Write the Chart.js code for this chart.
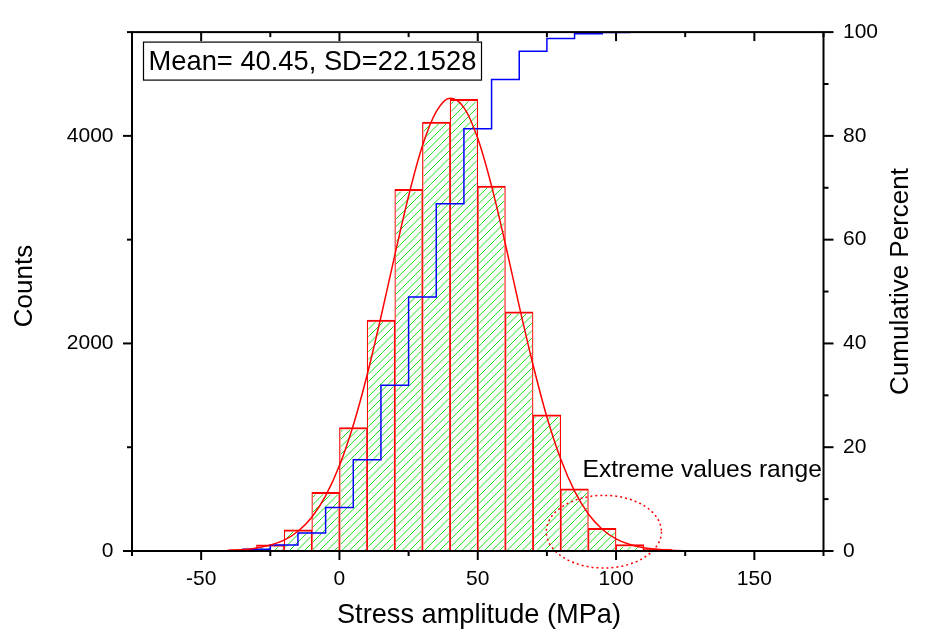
<!DOCTYPE html>
<html><head><meta charset="utf-8">
<script src="https://cdn.jsdelivr.net/npm/chart.js@4/dist/chart.umd.min.js"></script>
<style>html,body{margin:0;padding:0;background:#fff;}#wrap{width:926px;height:639px;}</style>
</head><body><div id="wrap"><canvas id="c" width="926" height="639"></canvas></div>
<script>
// ---- data ----
const binCenters = [-55,-45,-35,-25,-15,-5,5,15,25,35,45,55,65,75,85,95,105,115];
const counts     = [1,4,13,60,205,565,1190,2225,3484,4134,4352,3516,2304,1313,600,218,63,18];
const cumPercent = [0.004,0.02,0.07,0.32,1.17,3.49,8.40,17.57,31.93,48.96,66.90,81.39,90.88,96.29,98.77,99.67,99.93,100];
const fitX = [-50,-40,-30,-20,-15,-10,-5,0,5,10,15,20,25,30,35,40,45,50,55,60,65,70,75,80,85,90,95,100,105,110,120,130];
const fitY = [1,6,28,105,190,326,531,823,1212,1696,2255,2849,3421,3904,4233,4362,4272,3976,3516,2956,2360,1792,1292,886,577,357,210,117,62,31,7,1];
const xTickValues = [-50,0,50,100,150];
const countTickValues = [0,2000,4000];
const percentTickValues = [0,20,40,60,80,100];
const statsLabel = 'Mean= 40.45, SD=22.1528';
const noteLabel = 'Extreme values range';
const xTitle = 'Stress amplitude (MPa)';
const yTitle = 'Counts';
const y2Title = 'Cumulative Percent';

const FONT = '"Liberation Sans", Arial, sans-serif';
Chart.defaults.font.family = FONT;
Chart.defaults.color = '#000';

const BAR_BORDER = {top:2, left:1.2, right:1.2, bottom:0};

// green hatch drawn inside each bar element (geometry from Chart.js)
const hatchPlugin = {
  id: 'hatch',
  afterDatasetDraw(chart, args){
    const meta = args.meta;
    if (meta.type !== 'bar') return;
    const ctx = chart.ctx;
    const step = 7.5;
    ctx.save();
    ctx.strokeStyle = 'rgb(25,225,25)';
    ctx.lineWidth = 1;
    meta.data.forEach(el => {
      const l = el.x - el.width/2 + BAR_BORDER.left;
      const r = el.x + el.width/2 - BAR_BORDER.right;
      const t = el.y + BAR_BORDER.top;
      const b = el.base;
      if (b - t < 1 || r - l < 1) return;
      ctx.save();
      ctx.beginPath(); ctx.rect(l, t, r-l, b-t); ctx.clip();
      ctx.beginPath();
      const cMin = Math.floor((l + t)/step)*step, cMax = r + b;
      for (let c = cMin; c <= cMax; c += step){
        ctx.moveTo(c - t, t); ctx.lineTo(c - b, b);
      }
      ctx.stroke();
      ctx.restore();
    });
    ctx.restore();
  }
};

const decor = {
  id: 'decor',
  afterDraw(chart){
    const {ctx, chartArea:a, scales:{x, y, y2}} = chart;
    ctx.save();
    // ellipse (dotted)
    const cx = x.getPixelForValue(95.6), cy = y.getPixelForValue(186);
    const rx = x.getPixelForValue(95.6+20.8) - cx, ry = cy - y.getPixelForValue(186+350);
    ctx.strokeStyle = '#ff0000'; ctx.lineWidth = 1.5; ctx.setLineDash([2,3]);
    ctx.beginPath(); ctx.ellipse(cx, cy, rx, ry, 0, 0, Math.PI*2); ctx.stroke();
    ctx.setLineDash([]);
    // frame
    ctx.strokeStyle = '#000'; ctx.lineWidth = 2;
    ctx.strokeRect(a.left, a.top, a.right-a.left, a.bottom-a.top);
    const line = (x1,y1,x2,y2)=>{ctx.beginPath();ctx.moveTo(x1,y1);ctx.lineTo(x2,y2);ctx.stroke();};
    for (let v=-75; v<=175; v+=25){
      const px = x.getPixelForValue(v); const L = (v%50===0)?9:5;
      line(px, a.bottom, px, a.bottom+L);
      line(px, a.top, px, a.top+L);
    }
    for (let v=0; v<=5000; v+=1000){
      const py = y.getPixelForValue(v); const L = (v%2000===0)?9:5;
      line(a.left-L, py, a.left, py);
    }
    for (let v=0; v<=100; v+=10){
      const py = y2.getPixelForValue(v); const L = (v%20===0)?10:5;
      line(a.right, py, a.right+L, py);
    }
    // stats box
    const bx = a.left+11.5, by = a.top+10, bw = 338, bh = 38;
    ctx.fillStyle = '#fff'; ctx.fillRect(bx, by, bw, bh);
    ctx.lineWidth = 1.2; ctx.strokeStyle = '#000'; ctx.strokeRect(bx, by, bw, bh);
    ctx.fillStyle = '#000';
    ctx.font = '27.3px ' + FONT; ctx.textAlign = 'center'; ctx.textBaseline = 'alphabetic';
    ctx.fillText(statsLabel, bx + bw/2, by + 28);
    // note
    ctx.font = '24.6px ' + FONT; ctx.textAlign = 'left';
    ctx.fillText(noteLabel, x.getPixelForValue(87.9), 476.5);
    // titles
    ctx.textAlign = 'center'; ctx.textBaseline = 'middle';
    ctx.font = '27.2px ' + FONT;
    ctx.fillText(xTitle, 479, 616);
    ctx.font = '26px ' + FONT;
    ctx.save(); ctx.translate(24.5, 286); ctx.rotate(-Math.PI/2);
    ctx.fillText(yTitle, 0, 0); ctx.restore();
    ctx.save(); ctx.translate(900.5, 281.5); ctx.rotate(-Math.PI/2);
    ctx.fillText(y2Title, 0, 0); ctx.restore();
    ctx.restore();
  }
};

const tickFont = {size: 21, family: FONT};
new Chart(document.getElementById('c'), {
  type: 'bar',
  data: {
    datasets: [
      {
        type: 'line',
        data: fitX.map((v,i)=>({x:v, y:fitY[i]})),
        borderColor: '#ff0000', borderWidth: 1.5, pointRadius: 0,
        cubicInterpolationMode: 'monotone', yAxisID: 'y', order: 1
      },
      {
        type: 'line',
        data: binCenters.map((v,i)=>({x:v, y:cumPercent[i]})),
        borderColor: '#0000ff', borderWidth: 1.5, pointRadius: 0,
        stepped: 'after', yAxisID: 'y2', order: 2
      },
      {
        type: 'bar',
        data: binCenters.map((v,i)=>({x:v, y:counts[i]})),
        backgroundColor: '#ffffff', borderColor: '#ff0000',
        borderWidth: BAR_BORDER,
        barPercentage: 1, categoryPercentage: 1, yAxisID: 'y', order: 3
      }
    ]
  },
  options: {
    responsive: false, animation: false, devicePixelRatio: 1,
    layout: {padding: {top: 22.5, left: 0, right: 0, bottom: 0}},
    plugins: {legend: {display: false}, tooltip: {enabled: false}},
    scales: {
      x: {
        type: 'linear', min: -75, max: 175, offset: false,
        grid: {display: false, drawTicks: false, offset: false}, border: {display: false},
        afterBuildTicks: s => { s.ticks = xTickValues.map(v=>({value:v})); },
        afterFit: s => { s.height = 88; },
        ticks: {font: tickFont, padding: 16, maxRotation: 0, callback: v => String(v)}
      },
      y: {
        position: 'left', min: 0, max: 5000,
        grid: {display: false, drawTicks: false}, border: {display: false},
        afterBuildTicks: s => { s.ticks = countTickValues.map(v=>({value:v})); },
        afterFit: s => { s.width = 132; },
        ticks: {font: tickFont, padding: 18.5, callback: v => String(v)}
      },
      y2: {
        position: 'right', min: 0, max: 100,
        grid: {display: false, drawTicks: false}, border: {display: false},
        afterBuildTicks: s => { s.ticks = percentTickValues.map(v=>({value:v})); },
        afterFit: s => { s.width = 102.5; },
        ticks: {font: tickFont, padding: 19.5, callback: v => String(v)}
      }
    }
  },
  plugins: [hatchPlugin, decor]
});
</script></body></html>
